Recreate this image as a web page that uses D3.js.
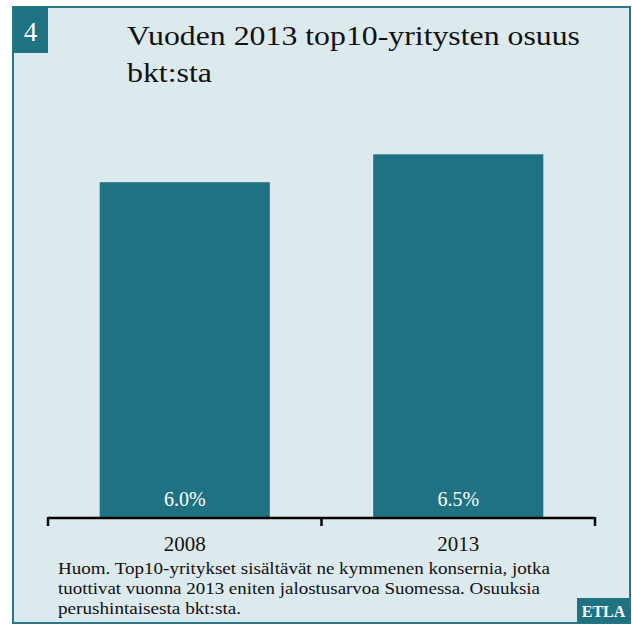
<!DOCTYPE html>
<html><head><meta charset="utf-8">
<script src="https://cdn.jsdelivr.net/npm/d3@7"></script>
<style>body{margin:0;background:#fff}svg{display:block}</style>
</head><body>
<svg id="c" width="632" height="626"></svg>
<script>
const categories = ["2008", "2013"];
const values = [6.0, 6.5];
const valueLabels = ["6.0%", "6.5%"];
const titleLines = ["Vuoden 2013 top10-yritysten osuus", "bkt:sta"];
const noteLines = [
  "Huom. Top10-yritykset sisältävät ne kymmenen konsernia, jotka",
  "tuottivat vuonna 2013 eniten jalostusarvoa Suomessa. Osuuksia",
  "perushintaisesta bkt:sta."
];
const chartNumber = "4";
const sourceLabel = "ETLA";

const serif = "'Liberation Serif','DejaVu Serif',serif";
const teal = "#1f7282";
const svg = d3.select("#c");

// frame
svg.append("rect").attr("x",13).attr("y",7).attr("width",617).attr("height",616)
  .attr("fill","#dce9ed").attr("stroke","#2a7686").attr("stroke-width",2);

// number box
svg.append("rect").attr("x",13).attr("y",7).attr("width",35).attr("height",46).attr("fill",teal);
svg.append("text").attr("x",30.5).attr("y",41).attr("text-anchor","middle")
  .attr("font-family",serif).attr("font-size",27).attr("fill","#fff").text(chartNumber);

// title
const titleLen = [453, 85];
svg.append("g").selectAll("text").data(titleLines).join("text")
  .attr("x",127).attr("y",(d,i)=>45+i*37)
  .attr("font-family",serif).attr("font-size",28).attr("fill","#111")
  .attr("textLength",(d,i)=>titleLen[i]).attr("lengthAdjust","spacingAndGlyphs")
  .text(d=>d);

// scales
const x = d3.scaleBand().domain(categories).range([48,595]).paddingInner(0.378).paddingOuter(0.189);
const y = d3.scaleLinear().domain([0,7]).range([517,517-7*55.8]);

svg.append("g").selectAll("rect").data(values).join("rect")
  .attr("x",(d,i)=>x(categories[i])).attr("width",x.bandwidth())
  .attr("y",d=>y(d)).attr("height",d=>y(0)-y(d)).attr("fill",teal);

svg.append("g").selectAll("text").data(valueLabels).join("text")
  .attr("x",(d,i)=>x(categories[i])+x.bandwidth()/2).attr("y",506)
  .attr("text-anchor","middle").attr("font-family",serif).attr("font-size",20)
  .attr("fill","#fff").text(d=>d);

// axis
const xb = d3.scalePoint().domain(["a","b","c"]).range([48,595]);
const ax = svg.append("g");
ax.append("line").attr("x1",48).attr("x2",595).attr("y1",y(0)+1).attr("y2",y(0)+1)
  .attr("stroke","#000").attr("stroke-width",2.5);
ax.selectAll("line.t").data(xb.domain()).join("line").attr("class","t")
  .attr("x1",d=>xb(d)).attr("x2",d=>xb(d)).attr("y1",y(0)).attr("y2",y(0)+9)
  .attr("stroke","#000").attr("stroke-width",2.5);
ax.selectAll("text").data(categories).join("text")
  .attr("x",d=>x(d)+x.bandwidth()/2).attr("y",551)
  .attr("text-anchor","middle").attr("font-family",serif).attr("font-size",21)
  .attr("fill","#111").text(d=>d);

// note
const noteLen = [492, 482, 183];
svg.append("g").selectAll("text").data(noteLines).join("text")
  .attr("x",58).attr("y",(d,i)=>574+i*20)
  .attr("font-family",serif).attr("font-size",17).attr("fill","#111")
  .attr("textLength",(d,i)=>noteLen[i]).attr("lengthAdjust","spacingAndGlyphs")
  .text(d=>d);

// ETLA box
svg.append("rect").attr("x",577).attr("y",598).attr("width",53).attr("height",25).attr("fill",teal);
svg.append("text").attr("x",603.5).attr("y",617).attr("text-anchor","middle")
  .attr("font-family",serif).attr("font-size",16).attr("font-weight","bold")
  .attr("fill","#fff").text(sourceLabel);
</script>
</body></html>
